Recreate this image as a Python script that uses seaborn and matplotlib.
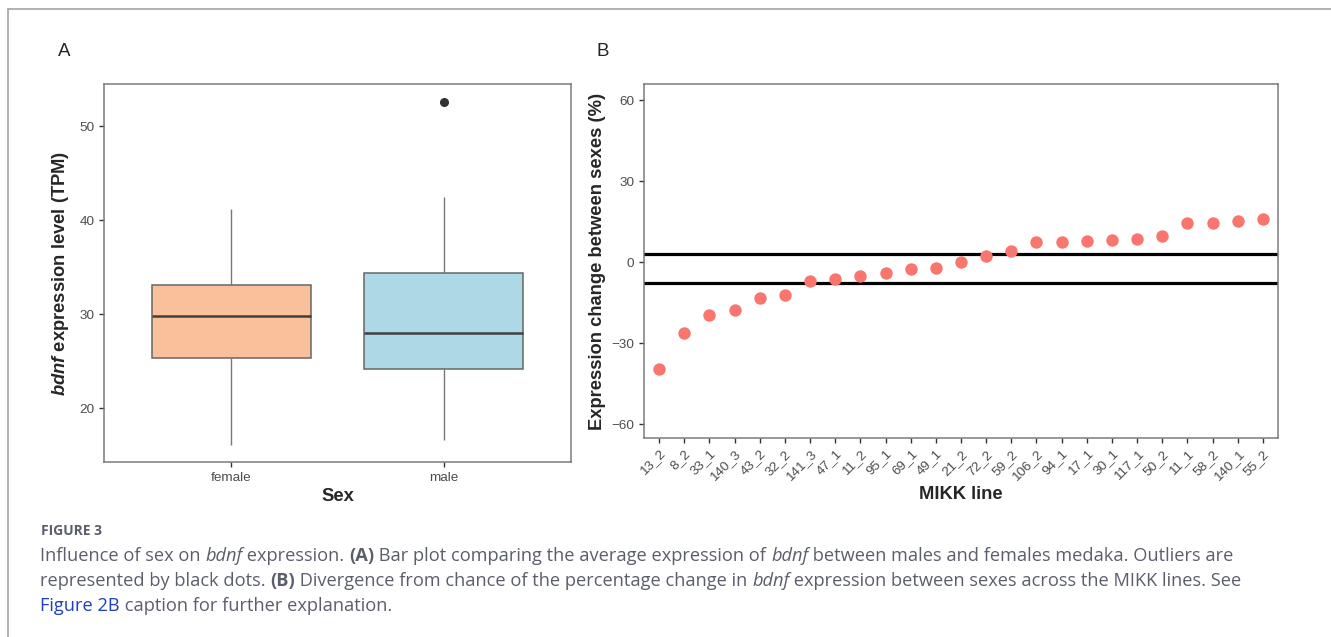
import matplotlib
matplotlib.use("Agg")
import matplotlib.pyplot as plt
from matplotlib.lines import Line2D
import pandas as pd
import seaborn as sns

# panel A: values chosen so the quartiles/whiskers match the figure
female_tpm = [16.1, 22.0, 25.4, 28.0, 29.8, 31.0, 33.1, 37.0, 41.2]
male_tpm = [16.6, 20.0, 24.2, 26.0, 28.0, 31.0, 34.4, 42.5, 52.6]
sex_colors = {"female": "#FAC09C", "male": "#ADD8E6"}

# panel B
mikk_lines = ["13_2", "8_2", "33_1", "140_3", "43_2", "32_2", "141_3", "47_1",
              "11_2", "95_1", "69_1", "49_1", "21_2", "72_2", "59_2", "106_2",
              "94_1", "17_1", "30_1", "117_1", "50_2", "11_1", "58_2", "140_1", "55_2"]
pct_change = [-39.6, -26.0, -19.4, -17.5, -13.3, -11.9, -6.8, -6.0, -5.1, -4.1,
              -2.6, -2.2, 0.2, 2.2, 4.1, 7.4, 7.5, 7.8, 8.4, 8.5,
              9.8, 14.4, 14.7, 15.3, 16.0]
chance_bounds = [3.0, -7.6]

W, H = 1331, 637

sns.set_style("white")
plt.rcParams["font.family"] = ["Liberation Sans", "DejaVu Sans"]
plt.rcParams["mathtext.fontset"] = "custom"
plt.rcParams["mathtext.bfit"] = "Liberation Sans:italic:bold"
plt.rcParams["mathtext.it"] = "Liberation Sans:italic"
plt.rcParams["mathtext.bf"] = "Liberation Sans:bold"
plt.rcParams["mathtext.rm"] = "Liberation Sans"

fig = plt.figure(figsize=(W / 100, H / 100), dpi=100)


def rect(x0, y0, x1, y1):
    return [x0 / W, 1 - y1 / H, (x1 - x0) / W, (y1 - y0) / H]


spine_col = "#7a7a7a"
label_size = 13.2


def style_axes(ax):
    for s in ax.spines.values():
        s.set_color(spine_col)
        s.set_linewidth(1.1)
    ax.tick_params(axis="both", length=3.5, width=1, color="#333333",
                   labelcolor="#4d4d4d", labelsize=9.7, bottom=True, left=True)


# ---- panel A ----
axA = fig.add_axes(rect(104, 84, 571, 462))
dfA = pd.DataFrame({
    "Sex": ["female"] * len(female_tpm) + ["male"] * len(male_tpm),
    "tpm": female_tpm + male_tpm,
})
sns.boxplot(data=dfA, x="Sex", y="tpm", hue="Sex", palette=sex_colors,
            order=["female", "male"], width=0.75, showcaps=False, legend=False,
            saturation=1, linewidth=1.1, linecolor="#666666",
            medianprops=dict(color="#404040", linewidth=1.8),
            whiskerprops=dict(color="#777777", linewidth=1.0),
            flierprops=dict(marker="o", markerfacecolor="#333333",
                            markeredgecolor="#333333", markersize=5.5),
            ax=axA)
axA.set_xlim(-0.6, 1.6)
axA.set_ylim(14.3, 54.5)
axA.set_yticks([20, 30, 40, 50])
axA.set_xlabel("Sex", fontsize=label_size, fontweight="bold", labelpad=3)
axA.set_ylabel(r"$\mathbfit{bdnf}$ expression level (TPM)", fontsize=label_size,
               fontweight="bold", labelpad=6)
style_axes(axA)

# ---- panel B ----
axB = fig.add_axes(rect(644, 84, 1278, 438))
dfB = pd.DataFrame({"line": mikk_lines, "pct": pct_change})
for yb in chance_bounds:
    axB.axhline(yb, color="black", linewidth=2.3, zorder=1)
sns.scatterplot(data=dfB, x="line", y="pct", color="#F8766D", s=80,
                linewidth=0, ax=axB, zorder=3)
axB.set_xlim(-0.6, len(mikk_lines) - 0.4)
axB.set_ylim(-65, 66)
axB.set_yticks([-60, -30, 0, 30, 60])
axB.set_xlabel("MIKK line", fontsize=label_size, fontweight="bold", labelpad=2)
axB.set_ylabel("Expression change between sexes (%)", fontsize=label_size,
               fontweight="bold", labelpad=4)
style_axes(axB)
plt.setp(axB.get_xticklabels(), rotation=45, ha="right", rotation_mode="anchor")

# panel letters
fig.text(64 / W, 1 - 52 / H, "A", fontsize=13.5, va="center", ha="center")
fig.text(603 / W, 1 - 52 / H, "B", fontsize=13.5, va="center", ha="center")

# page frame
fig.add_artist(Line2D([8 / W, 1], [1 - 9 / H, 1 - 9 / H], color="#aaaaaa",
                      linewidth=1.3, transform=fig.transFigure))
fig.add_artist(Line2D([8 / W, 8 / W], [0, 1 - 9 / H], color="#aaaaaa",
                      linewidth=1.3, transform=fig.transFigure))

# caption
cap_col = "#5b5e6b"
cap_fam = ["Open Sans", "DejaVu Sans"]
fig.text(41 / W, 1 - 531 / H, "FIGURE 3", fontsize=10, fontweight="bold",
         color="#5b5e6b", family=cap_fam, va="center")

renderer = fig.canvas.get_renderer()


def draw_runs(x_px, y_px, runs):
    x = x_px
    for txt, kind in runs:
        kw = dict(fontsize=13.15, family=cap_fam, color=cap_col, va="center")
        if kind == "i":
            kw["style"] = "italic"
        elif kind == "b":
            kw["fontweight"] = "bold"
        elif kind == "link":
            kw["color"] = "#1f3fbf"
        t = fig.text(x / W, 1 - y_px / H, txt, **kw)
        x += t.get_window_extent(renderer).width


draw_runs(40, 556, [("Influence of sex on ", ""), ("bdnf", "i"), (" expression. ", ""),
                    ("(A)", "b"), (" Bar plot comparing the average expression of ", ""),
                    ("bdnf", "i"), (" between males and females medaka. Outliers are", "")])
draw_runs(40, 581, [("represented by black dots. ", ""), ("(B)", "b"),
                    (" Divergence from chance of the percentage change in ", ""),
                    ("bdnf", "i"), (" expression between sexes across the MIKK lines. See", "")])
draw_runs(40, 606, [("Figure 2B", "link"), (" caption for further explanation.", "")])

fig.savefig("out.png", dpi=100)
